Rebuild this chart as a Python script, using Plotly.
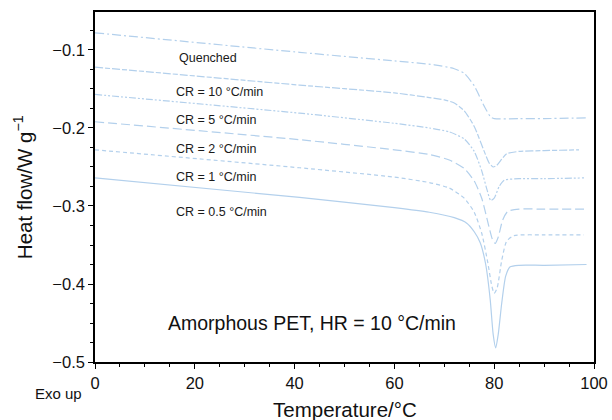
import plotly.graph_objects as go

# ---- data ----
labels = ["Quenched", "CR = 10 °C/min", "CR = 5 °C/min", "CR = 2 °C/min",
          "CR = 1 °C/min", "CR = 0.5 °C/min"]

t_quenched = [0, 41, 60, 68, 72, 74, 76, 78, 79.3, 80, 85, 90, 98.5]
hf_quenched = [-0.078, -0.103, -0.114, -0.119, -0.124, -0.130, -0.146, -0.172,
               -0.186, -0.188, -0.188, -0.188, -0.187]

t_cr10 = [0, 41, 60, 67, 70, 72, 74, 76, 78, 79, 79.8, 80.5, 81.5, 82.5, 85, 90, 97]
hf_cr10 = [-0.122, -0.145, -0.155, -0.161, -0.164, -0.168, -0.178, -0.198, -0.230,
           -0.245, -0.250, -0.248, -0.240, -0.233, -0.230, -0.229, -0.228]

t_cr5 = [0, 41, 60, 67, 71, 74, 76, 77.5, 78.6, 79.3, 80, 81, 82, 85, 90, 98]
hf_cr5 = [-0.157, -0.181, -0.194, -0.200, -0.205, -0.214, -0.230, -0.255, -0.280,
          -0.293, -0.290, -0.275, -0.267, -0.265, -0.265, -0.264]

t_cr2 = [0, 41, 60, 67, 71, 74, 76, 77.5, 78.7, 79.6, 80.2, 80.8, 81.7, 82.7, 85, 90, 98]
hf_cr2 = [-0.192, -0.215, -0.228, -0.234, -0.241, -0.252, -0.268, -0.290, -0.320,
          -0.342, -0.348, -0.340, -0.318, -0.307, -0.304, -0.304, -0.304]

t_cr1 = [0, 41, 60, 67, 71, 74, 76, 77.5, 78.7, 79.5, 80, 80.6, 81.5, 82.5, 84, 90, 98]
hf_cr1 = [-0.228, -0.251, -0.263, -0.270, -0.277, -0.290, -0.308, -0.335, -0.372,
          -0.402, -0.412, -0.405, -0.370, -0.345, -0.338, -0.337, -0.337]

t_cr05 = [0, 41, 60, 67, 72, 74.5, 76, 77.2, 78.3, 79.2, 79.8, 80.3, 80.8, 81.5,
          82.3, 83.2, 85, 90, 98.5]
hf_cr05 = [-0.264, -0.289, -0.302, -0.308, -0.315, -0.322, -0.333, -0.347, -0.375,
           -0.420, -0.465, -0.482, -0.465, -0.425, -0.390, -0.378, -0.376, -0.376, -0.375]

label_x = [16.4, 15.8, 15.8, 15.8, 15.8, 15.8]
label_y = [-0.110, -0.154, -0.190, -0.227, -0.263, -0.308]

x_ticks = [0, 20, 40, 60, 80, 100]
y_ticks = [-0.5, -0.4, -0.3, -0.2, -0.1]

series = [
    (t_quenched, hf_quenched, "9px,3px,2px,3px"),
    (t_cr10, hf_cr10, "8px,2px,5px,2px"),
    (t_cr5, hf_cr5, "7px,2px,2px,2px,2px,2px"),
    (t_cr2, hf_cr2, "9px,4px"),
    (t_cr1, hf_cr1, "4px,3px"),
    (t_cr05, hf_cr05, "solid"),
]

LINE_COLOR = "#b3d0ec"
FONT = "Liberation Sans, Arial, sans-serif"
TXT = "#111111"

fig = go.Figure()
for (tx, hy, dash), name in zip(series, labels):
    fig.add_trace(go.Scatter(
        x=tx, y=hy, mode="lines", name=name,
        line=dict(color=LINE_COLOR, width=1.2, dash=dash, shape="spline", smoothing=0.6),
        showlegend=False, hoverinfo="skip",
    ))

for lx, ly, txt in zip(label_x, label_y, labels):
    fig.add_annotation(x=lx, y=ly, text=txt, showarrow=False, xanchor="left",
                       yanchor="middle", font=dict(size=12.5, color="#1a1a1a", family=FONT))

fig.add_annotation(x=14.2, y=-0.45, text="Amorphous PET, HR = 10 °C/min", showarrow=False,
                   xanchor="left", yanchor="middle",
                   font=dict(size=19.5, color=TXT, family=FONT))

fig.add_annotation(xref="paper", yref="paper", x=-0.074, y=-0.089, text="Exo up",
                   showarrow=False, xanchor="center", yanchor="middle",
                   font=dict(size=15, color=TXT, family=FONT))

# axis titles as annotations for exact placement
fig.add_annotation(xref="paper", yref="paper", x=0.501, y=-0.137, text="Temperature/°C",
                   showarrow=False, xanchor="center", yanchor="middle",
                   font=dict(size=20.5, color=TXT, family=FONT))
fig.add_annotation(xref="paper", yref="paper", x=-0.144, y=0.5,
                   text="Heat flow/W g<sup>−1</sup>", textangle=-90,
                   showarrow=False, xanchor="center", yanchor="middle",
                   font=dict(size=20.5, color=TXT, family=FONT))

fig.update_layout(
    width=612, height=420,
    margin=dict(l=95, r=18, t=12, b=58),
    paper_bgcolor="white", plot_bgcolor="white",
    font=dict(family=FONT, color=TXT),
    xaxis=dict(
        range=[0, 100], tickvals=x_ticks, ticks="outside", ticklen=5, tickwidth=1.2,
        tickcolor="black", showgrid=False, zeroline=False, automargin=False,
        showline=True, linecolor="black", linewidth=1.5, mirror=True,
        tickfont=dict(size=16.5, family=FONT, color=TXT),
        minor=dict(dtick=5, ticks="outside", ticklen=3, tickcolor="black"),
    ),
    yaxis=dict(
        range=[-0.5, -0.0513], tickvals=y_ticks, ticks="outside", ticklen=5, tickwidth=1.2,
        tickcolor="black", showgrid=False, zeroline=False, automargin=False,
        showline=True, linecolor="black", linewidth=1.5, mirror=True,
        tickfont=dict(size=16.5, family=FONT, color=TXT),
        minor=dict(dtick=0.025, tick0=0, ticks="outside", ticklen=3, tickcolor="black"),
    ),
)

fig.write_html("out.html")
